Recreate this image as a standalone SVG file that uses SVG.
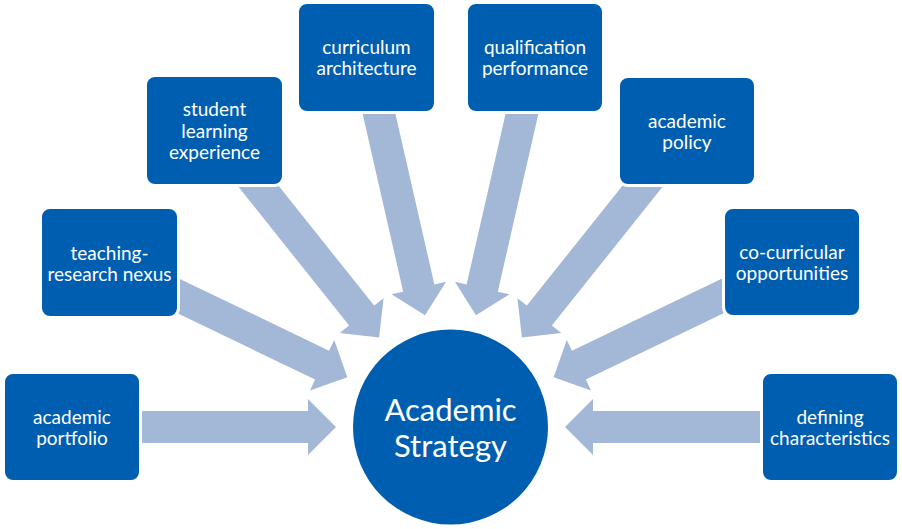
<svg xmlns="http://www.w3.org/2000/svg" width="902" height="529" viewBox="0 0 902 529">
<style>
.box{fill:#005EB0;stroke:#ffffff;stroke-width:3;}
.hub{fill:#005EB0;}
.arr{fill:#A3B7D6;}
.t{font-family:Lato,"Open Sans","Liberation Sans",sans-serif;font-size:19px;fill:#ffffff;text-anchor:middle;}
.th{font-family:Lato,"Open Sans","Liberation Sans",sans-serif;font-size:31px;fill:#ffffff;text-anchor:middle;}
</style>
<defs>
<polygon id="ar" points="114.5,0 142.5,-28 142.5,-16 330,-16 330,16 142.5,16 142.5,28"/>
</defs>
<rect width="902" height="529" fill="#ffffff"/>
<g id="connectors" class="arr">
<use href="#ar" transform="translate(450.5,427) rotate(180)"/>
<use href="#ar" transform="translate(450.5,427) rotate(205.714)"/>
<use href="#ar" transform="translate(450.5,427) rotate(231.429)"/>
<use href="#ar" transform="translate(450.5,427) rotate(257.143)"/>
<use href="#ar" transform="translate(450.5,427) rotate(282.857)"/>
<use href="#ar" transform="translate(450.5,427) rotate(308.571)"/>
<use href="#ar" transform="translate(450.5,427) rotate(334.286)"/>
<use href="#ar" transform="translate(450.5,427) rotate(360)"/>
</g>
<g id="academic-portfolio">
<rect class="box" x="3.5" y="372.5" width="137" height="109" rx="9.5"/>
<text class="t" x="72" y="423.5">academic</text>
<text class="t" x="72" y="444.5">portfolio</text>
</g>
<g id="teaching-research-nexus">
<rect class="box" x="40.5" y="207.5" width="138" height="110" rx="9.5"/>
<text class="t" x="109.5" y="259.5">teaching-</text>
<text class="t" x="109.5" y="280.5">research nexus</text>
</g>
<g id="student-learning-experience">
<rect class="box" x="145.5" y="75.5" width="138" height="110" rx="9.5"/>
<text class="t" x="214.5" y="116">student</text>
<text class="t" x="214.5" y="137.5">learning</text>
<text class="t" x="214.5" y="159">experience</text>
</g>
<g id="curriculum-architecture">
<rect class="box" x="297.5" y="2.5" width="138" height="110" rx="9.5"/>
<text class="t" x="366.5" y="54">curriculum</text>
<text class="t" x="366.5" y="75">architecture</text>
</g>
<g id="qualification-performance">
<rect class="box" x="466.5" y="2.5" width="137" height="110" rx="9.5"/>
<text class="t" x="535" y="54">qualification</text>
<text class="t" x="535" y="75">performance</text>
</g>
<g id="academic-policy">
<rect class="box" x="618.5" y="76.5" width="137" height="109" rx="9.5"/>
<text class="t" x="687" y="128">academic</text>
<text class="t" x="687" y="149">policy</text>
</g>
<g id="co-curricular-opportunities">
<rect class="box" x="723.5" y="207.5" width="137" height="109" rx="9.5"/>
<text class="t" x="792" y="259">co-curricular</text>
<text class="t" x="792" y="280">opportunities</text>
</g>
<g id="defining-characteristics">
<rect class="box" x="761.5" y="372.5" width="137" height="109" rx="9.5"/>
<text class="t" x="830" y="423.5">defining</text>
<text class="t" x="830" y="444.5">characteristics</text>
</g>
<g id="academic-strategy">
<circle class="hub" cx="450.5" cy="427" r="97.5"/>
<text class="th" x="450.5" y="421">Academic</text>
<text class="th" x="450.5" y="456.5">Strategy</text>
</g>
</svg>
